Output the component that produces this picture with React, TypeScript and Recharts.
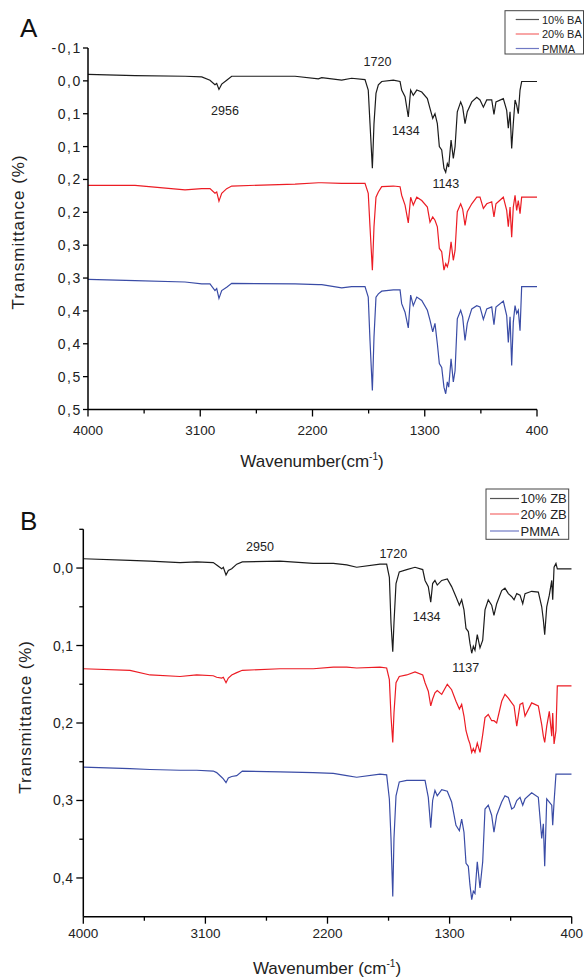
import { LineChart, Line, XAxis, YAxis, ReferenceDot } from "recharts";

const FONT = '"Liberation Sans", Arial, Helvetica, sans-serif';

// panel A: wavenumber grid (cm-1) and the three spectra
const wavenumberA = [
  4000, 3623, 3222, 3088, 3022, 2982, 2968, 2950, 2928, 2888,
  2848, 2340, 2153, 2126, 1966, 1886, 1779, 1753, 1739, 1720,
  1707, 1691, 1672, 1645, 1552, 1498, 1485, 1458, 1432, 1413,
  1392, 1364, 1324, 1279, 1258, 1236, 1218, 1199, 1183, 1164,
  1146, 1132, 1119, 1108, 1089, 1071, 1057, 1039, 1012, 996,
  977, 959, 923, 883, 857, 830, 803, 763, 745, 729,
  670, 643, 630, 616, 603, 590, 576, 563, 550, 536,
  523, 400,
];
const tenBA = [
  -0.010, -0.008, -0.007, -0.006, -0.001, 0.006, 0.004, 0.013, 0.005, -0.001,
  -0.007, -0.007, -0.003, -0.005, -0.001, -0.004, -0.002, 0.014, 0.065, 0.133,
  0.065, 0.019, 0.006, 0.001, -0.001, 0.001, 0.014, 0.024, 0.055, 0.014,
  0.022, 0.014, 0.017, 0.027, 0.042, 0.057, 0.050, 0.065, 0.100, 0.105,
  0.133, 0.139, 0.126, 0.131, 0.090, 0.118, 0.100, 0.047, 0.032, 0.040,
  0.065, 0.047, 0.032, 0.025, 0.029, 0.040, 0.029, 0.029, 0.051, 0.032,
  0.027, 0.045, 0.072, 0.047, 0.103, 0.065, 0.029, 0.037, 0.050, 0.014,
  0.001, 0.001,
];
const twentyBA = [
  0.159, 0.159, 0.166, 0.164, 0.164, 0.171, 0.169, 0.183, 0.171, 0.164,
  0.160, 0.157, 0.155, 0.155, 0.156, 0.156, 0.156, 0.171, 0.222, 0.288,
  0.222, 0.177, 0.169, 0.161, 0.160, 0.161, 0.174, 0.189, 0.216, 0.177,
  0.189, 0.177, 0.182, 0.192, 0.215, 0.207, 0.212, 0.222, 0.255, 0.260,
  0.288, 0.278, 0.283, 0.275, 0.245, 0.273, 0.258, 0.199, 0.187, 0.195,
  0.220, 0.199, 0.187, 0.177, 0.177, 0.194, 0.187, 0.184, 0.207, 0.187,
  0.177, 0.197, 0.222, 0.192, 0.238, 0.192, 0.174, 0.197, 0.182, 0.202,
  0.177, 0.177,
];
const pmmaA = [
  0.302, 0.304, 0.306, 0.309, 0.309, 0.319, 0.316, 0.331, 0.319, 0.314,
  0.308, 0.309, 0.310, 0.310, 0.315, 0.313, 0.313, 0.329, 0.395, 0.471,
  0.390, 0.329, 0.324, 0.320, 0.318, 0.318, 0.339, 0.352, 0.376, 0.326,
  0.342, 0.329, 0.334, 0.349, 0.364, 0.382, 0.369, 0.400, 0.430, 0.436,
  0.466, 0.476, 0.458, 0.466, 0.423, 0.458, 0.441, 0.362, 0.349, 0.359,
  0.395, 0.369, 0.347, 0.342, 0.344, 0.363, 0.347, 0.344, 0.371, 0.344,
  0.335, 0.357, 0.398, 0.359, 0.433, 0.367, 0.342, 0.354, 0.349, 0.380,
  0.313, 0.313,
];

// panel B
const wavenumberB = [
  4000, 3656, 3508, 3287, 3164, 3042, 3017, 2980, 2968, 2948,
  2931, 2906, 2869, 2828, 2550, 2305, 2157, 2058, 1985, 1813,
  1764, 1744, 1732, 1719, 1710, 1695, 1671, 1616, 1555, 1498,
  1481, 1457, 1439, 1425, 1408, 1391, 1358, 1317, 1285, 1253,
  1228, 1211, 1194, 1179, 1162, 1150, 1137, 1125, 1113, 1096,
  1076, 1056, 1039, 1015, 990, 973, 953, 916, 892, 867,
  842, 825, 805, 781, 761, 744, 695, 646, 621, 609,
  599, 584, 565, 547, 540, 530, 516, 506, 400,
];
const tenZB = [
  -0.012, -0.010, -0.009, -0.007, -0.008, -0.007, -0.004, 0.001, -0.001, 0.009,
  0.003, 0.001, -0.005, -0.008, -0.009, -0.006, -0.006, -0.004, -0.001, -0.005,
  -0.005, 0.012, 0.071, 0.108, 0.071, 0.020, 0.005, 0.002, -0.001, 0.002,
  0.016, 0.024, 0.044, 0.020, 0.016, 0.022, 0.016, 0.014, 0.024, 0.037,
  0.048, 0.041, 0.054, 0.078, 0.082, 0.097, 0.110, 0.101, 0.106, 0.086,
  0.103, 0.093, 0.054, 0.041, 0.048, 0.061, 0.046, 0.029, 0.026, 0.033,
  0.037, 0.041, 0.033, 0.035, 0.046, 0.033, 0.030, 0.031, 0.050, 0.067,
  0.086, 0.050, 0.035, 0.016, 0.041, -0.001, -0.006, 0.001, 0.001,
];
const twentyZB = [
  0.130, 0.132, 0.138, 0.140, 0.138, 0.139, 0.141, 0.142, 0.141, 0.148,
  0.142, 0.138, 0.135, 0.132, 0.130, 0.130, 0.128, 0.128, 0.129, 0.128,
  0.129, 0.144, 0.191, 0.225, 0.187, 0.148, 0.140, 0.138, 0.134, 0.138,
  0.148, 0.159, 0.178, 0.169, 0.161, 0.158, 0.163, 0.150, 0.157, 0.172,
  0.182, 0.176, 0.191, 0.210, 0.221, 0.227, 0.238, 0.233, 0.238, 0.226,
  0.238, 0.215, 0.193, 0.189, 0.197, 0.197, 0.200, 0.172, 0.163, 0.168,
  0.174, 0.178, 0.204, 0.176, 0.174, 0.191, 0.174, 0.178, 0.202, 0.217,
  0.225, 0.204, 0.185, 0.217, 0.187, 0.227, 0.210, 0.152, 0.152,
];
const pmmaB = [
  0.257, 0.259, 0.260, 0.261, 0.261, 0.262, 0.264, 0.270, 0.272, 0.277,
  0.271, 0.269, 0.268, 0.262, 0.263, 0.264, 0.265, 0.268, 0.270, 0.266,
  0.267, 0.298, 0.349, 0.424, 0.349, 0.294, 0.276, 0.274, 0.274, 0.274,
  0.274, 0.296, 0.335, 0.300, 0.287, 0.294, 0.286, 0.288, 0.302, 0.332,
  0.339, 0.324, 0.341, 0.381, 0.385, 0.409, 0.428, 0.417, 0.420, 0.379,
  0.413, 0.379, 0.311, 0.306, 0.319, 0.341, 0.319, 0.302, 0.294, 0.296,
  0.311, 0.309, 0.300, 0.296, 0.306, 0.298, 0.290, 0.296, 0.349, 0.330,
  0.385, 0.298, 0.302, 0.306, 0.332, 0.302, 0.266, 0.266, 0.266,
];

const xTicks = [4000, 3550, 3100, 2650, 2200, 1750, 1300, 850, 400];
const xTickLabels = ["4000", "", "3100", "", "2200", "", "1300", "", "400"];

const yTicksA = [-0.05, 0, 0.05, 0.1, 0.15, 0.2, 0.25, 0.3, 0.35, 0.4, 0.45, 0.5];
const yTickLabelsA = ["-0,1", "0,0", "0,1", "0,1", "0,2", "0,2", "0,3", "0,3", "0,4", "0,4", "0,5", "0,5"];

const yTicksB = [-0.05, 0, 0.05, 0.1, 0.15, 0.2, 0.25, 0.3, 0.35, 0.4];
const yTickLabelsB = ["", "0,0", "", "0,1", "", "0,2", "", "0,3", "", "0,4"];

const peakTextA = ["2956", "1720", "1434", "1143"];
const peakWnA = [2902, 1679, 1452, 1131];
const peakValA = [0.045, -0.029, 0.075, 0.156];

const peakTextB = ["2950", "1720", "1434", "1137"];
const peakWnB = [2698, 1715, 1469, 1181];
const peakValB = [-0.028, -0.019, 0.063, 0.129];

const namesA = ["10% BA", "20% BA", "PMMA"];
const namesB = ["10% ZB", "20% ZB", "PMMA"];
const lineColors = ["#1c1c1c", "#ec1c24", "#3a4ca6"];
const legendColors = ["#555555", "#f36a6a", "#7079c4"];

const rowsA = wavenumberA.map((wn, i) => ({ wn, s0: tenBA[i], s1: twentyBA[i], s2: pmmaA[i] }));
const rowsB = wavenumberB.map((wn, i) => ({ wn, s0: tenZB[i], s1: twentyZB[i], s2: pmmaB[i] }));

function makeXTick(major: number, minor: number, labelDy: number) {
  return (props: any) => {
    const { x, y, payload } = props;
    const label = xTickLabels[xTicks.indexOf(payload.value)];
    return (
      <g>
        <line x1={x} x2={x} y1={y} y2={y + (label ? major : minor)} stroke="#000" strokeWidth={1.3} />
        {label ? (
          <text x={x} y={y + labelDy} textAnchor="middle" dominantBaseline="central" fontSize={13.5} fontFamily={FONT} fill="#222">
            {label}
          </text>
        ) : null}
      </g>
    );
  };
}

function makeYTick(ticks: number[], labels: string[], major: number, minor: number, gap: number, spacing: number) {
  return (props: any) => {
    const { x, y, payload } = props;
    const label = labels[ticks.indexOf(payload.value)];
    return (
      <g>
        <line x1={x - (label ? major : minor)} x2={x} y1={y} y2={y} stroke="#000" strokeWidth={1.3} />
        {label ? (
          <text x={x - gap} y={y} textAnchor="end" dominantBaseline="central" fontSize={14} letterSpacing={spacing} fontFamily={FONT} fill="#222">
            {label}
          </text>
        ) : null}
      </g>
    );
  };
}

const axisLine = { stroke: "#000", strokeWidth: 1.5 };

function Panel(props: {
  rows: any[];
  width: number;
  height: number;
  margin: any;
  yDomain: number[];
  yTicks: number[];
  yLabels: string[];
  yTick: any;
  xTick: any;
  peakText: string[];
  peakWn: number[];
  peakVal: number[];
}) {
  return (
    <LineChart width={props.width} height={props.height} data={props.rows} margin={props.margin}>
      <XAxis
        dataKey="wn"
        type="number"
        domain={[400, 4000]}
        reversed
        ticks={xTicks}
        interval={0}
        tickSize={0}
        tickMargin={0}
        tickLine={false}
        tick={props.xTick}
        axisLine={axisLine}
        height={30}
        allowDataOverflow
      />
      <YAxis
        type="number"
        domain={props.yDomain}
        reversed
        ticks={props.yTicks}
        interval={0}
        tickSize={0}
        tickMargin={0}
        tickLine={false}
        tick={props.yTick}
        axisLine={axisLine}
        width={40}
        allowDataOverflow
      />
      {["s0", "s1", "s2"].map((k, i) => (
        <Line
          key={k}
          dataKey={k}
          type="linear"
          stroke={lineColors[i]}
          strokeWidth={1.2}
          dot={false}
          activeDot={false}
          isAnimationActive={false}
        />
      ))}
      {props.peakText.map((t, i) => (
        <ReferenceDot
          key={t + i}
          x={props.peakWn[i]}
          y={props.peakVal[i]}
          r={0}
          fill="none"
          stroke="none"
          label={{ value: t, position: "center", fontSize: 12.5, fill: "#222", fontFamily: FONT }}
        />
      ))}
    </LineChart>
  );
}

function LegendBox(p: { x: number; y: number; w: number; h: number; rows: number[]; lineX: number[]; textX: number; size: number; names: string[] }) {
  return (
    <g>
      <rect x={p.x} y={p.y} width={p.w} height={p.h} fill="#fff" stroke="#444" strokeWidth={1} />
      {p.names.map((n, i) => (
        <g key={n}>
          <line x1={p.lineX[0]} x2={p.lineX[1]} y1={p.rows[i]} y2={p.rows[i]} stroke={legendColors[i]} strokeWidth={1.2} />
          <text x={p.textX} y={p.rows[i]} dominantBaseline="central" fontSize={p.size} fontFamily={FONT} fill="#222">
            {n}
          </text>
        </g>
      ))}
    </g>
  );
}

export default function App() {
  return (
    <div style={{ position: "absolute", left: 0, top: 0, width: 584, height: 978, background: "#fff", fontFamily: FONT }}>
      <div style={{ position: "absolute", left: 0, top: 0 }}>
        <Panel
          rows={rowsA}
          width={584}
          height={480}
          margin={{ top: 48, right: 47, bottom: 40.5, left: 48 }}
          yDomain={[-0.05, 0.5]}
          yTicks={yTicksA}
          yLabels={yTickLabelsA}
          yTick={makeYTick(yTicksA, yTickLabelsA, 5, 5, 6, 1.6)}
          xTick={makeXTick(7, 4, 21)}
          peakText={peakTextA}
          peakWn={peakWnA}
          peakVal={peakValA}
        />
      </div>
      <div style={{ position: "absolute", left: 0, top: 480 }}>
        <Panel
          rows={rowsB}
          width={584}
          height={498}
          margin={{ top: 49.3, right: 12.3, bottom: 31.3, left: 43.3 }}
          yDomain={[-0.05, 0.45]}
          yTicks={yTicksB}
          yLabels={yTickLabelsB}
          yTick={makeYTick(yTicksB, yTickLabelsB, 7, 4, 10, 0.3)}
          xTick={makeXTick(7, 4, 17)}
          peakText={peakTextB}
          peakWn={peakWnB}
          peakVal={peakValB}
        />
      </div>
      <svg width={584} height={978} style={{ position: "absolute", left: 0, top: 0, pointerEvents: "none" }}>
        <text x={20} y={37} fontSize={26} fontFamily={FONT} fill="#111">A</text>
        <text x={20} y={530} fontSize={26} fontFamily={FONT} fill="#111">B</text>
        <text x={18} y={232} transform="rotate(-90 18 232)" textAnchor="middle" dominantBaseline="central" fontSize={17} letterSpacing={1} fontFamily={FONT} fill="#222">
          Transmittance (%)
        </text>
        <text x={25} y={717} transform="rotate(-90 25 717)" textAnchor="middle" dominantBaseline="central" fontSize={17} letterSpacing={0.9} fontFamily={FONT} fill="#222">
          Transmittance (%)
        </text>
        <text x={312} y={467} textAnchor="middle" fontSize={17} fontFamily={FONT} fill="#222">
          Wavenumber(cm<tspan dy={-7} fontSize={10}>-1</tspan><tspan dy={7}>)</tspan>
        </text>
        <text x={327} y={974} textAnchor="middle" fontSize={17} fontFamily={FONT} fill="#222">
          Wavenumber (cm<tspan dy={-7} fontSize={10}>-1</tspan><tspan dy={7}>)</tspan>
        </text>
        <LegendBox x={505} y={10.7} w={78.5} h={43.3} rows={[19.5, 34, 48.5]} lineX={[515.7, 539]} textX={542} size={11} names={namesA} />
        <LegendBox x={486} y={489} w={82.7} h={50.3} rows={[498.5, 514, 531]} lineX={[490, 519]} textX={520.5} size={13} names={namesB} />
      </svg>
    </div>
  );
}
